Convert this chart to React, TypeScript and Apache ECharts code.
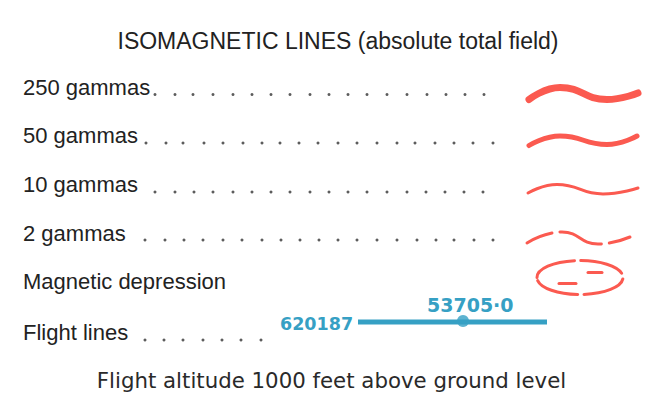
import React, { useEffect, useRef } from "react";
import * as echarts from "echarts";

const TITLE = "ISOMAGNETIC LINES (absolute total field)";
const FOOTNOTE = "Flight altitude 1000 feet above ground level";

const labels = ["250 gammas", "50 gammas", "10 gammas", "2 gammas", "Magnetic depression", "Flight lines"];
const labelBaselines = [95.5, 143.5, 192.5, 241, 289, 340.5];

// dot leaders (x positions) and their row y
const dotRows: { y: number; xs: number[] }[] = [
  { y: 94.5, xs: [155, 175, 193, 213, 233, 252, 271, 290, 310, 329, 348, 367, 387, 407, 427, 446, 465, 484] },
  { y: 143, xs: [146, 166, 183, 204, 223, 243, 262, 280, 299, 318, 338, 357, 377, 397, 415, 435, 454, 473, 493] },
  { y: 192, xs: [155, 175, 194, 213, 233, 252, 271, 290, 310, 329, 348, 367, 387, 407, 426, 445, 464, 483] },
  { y: 240, xs: [145, 165, 184, 203, 223, 242, 262, 281, 300, 319, 338, 357, 377, 397, 417, 436, 454, 474, 493] },
  { y: 340, xs: [145, 164, 183, 203, 222, 241, 261] },
];

// wave swatches: [x, y]
const wave250 = [[529, 99.5], [560, 87.5], [607, 99.5], [638, 93]];
const wave50 = [[529, 145.5], [560, 136], [607, 144.5], [637, 136]];
const wave10 = [[528, 193], [557, 184.5], [603, 194], [638, 188]];
const wave2 = [[527, 243], [562, 232], [598, 244], [630, 237]];
const depression = [[580, 277.5, 43, 17]]; // cx, cy, rx, ry
const depressionDashA = [[588, 272.5], [602, 272.5]];
const depressionDashB = [[559, 283.5], [576, 283.5]];
const flightLine = [[358, 322], [547, 322]];
const flightPoint = [[463, 321]];
const flightLabels = [
  { text: "620187", x: 280, base: 330, size: 17.5 },
  { text: "53705·0", x: 427, base: 312, size: 19 },
];

const RED = "#fb5a50";
const BLUE = "#36a0c4";
const INK = "#222222";

export default function App() {
  const ref = useRef<HTMLDivElement>(null);
  useEffect(() => {
    if (!ref.current) return;
    const chart = echarts.init(ref.current, undefined, { renderer: "svg" });

    const waveSeries = (data: number[][], width: number, type: any = "solid") => ({
      type: "line",
      data,
      smooth: 0.5,
      showSymbol: false,
      silent: true,
      lineStyle: { color: RED, width, cap: "round", type },
    });

    const graphic: any[] = [];
    graphic.push({
      type: "text",
      x: 338,
      y: 49 - 8,
      style: { text: TITLE, font: '23px "Liberation Sans", Arial, sans-serif', fill: INK, align: "center", verticalAlign: "middle" },
    });
    labels.forEach((t, i) => {
      graphic.push({
        type: "text",
        x: 23,
        y: labelBaselines[i] - 7.6,
        style: { text: t, font: '22px "Liberation Sans", Arial, sans-serif', fill: INK, align: "left", verticalAlign: "middle" },
      });
    });
    flightLabels.forEach((l) => {
      graphic.push({
        type: "text",
        x: l.x,
        y: l.base - l.size * 0.35,
        style: { text: l.text, font: `bold ${l.size}px "DejaVu Sans", sans-serif`, fill: BLUE, align: "left", verticalAlign: "middle" },
      });
    });
    graphic.push({
      type: "text",
      x: 331.5,
      y: 387.5 - 7.4,
      style: { text: FOOTNOTE, font: '21.3px "DejaVu Sans", sans-serif', fill: "#2a2a2a", align: "center", verticalAlign: "middle" },
    });

    const series: any[] = [
      ...dotRows.map((r) => ({
        type: "scatter",
        data: r.xs.map((x) => [x, r.y]),
        symbol: "circle",
        symbolSize: 3,
        silent: true,
        itemStyle: { color: "#333" },
      })),
      waveSeries(wave250, 7),
      waveSeries(wave50, 5),
      waveSeries(wave10, 3),
      waveSeries(wave2, 3, [27, 8, 44, 8, 28, 60]),
      {
        type: "custom",
        data: depression,
        silent: true,
        renderItem: (params: any, api: any) => {
          const c = api.coord([api.value(0), api.value(1)]);
          const s = api.size([api.value(2), api.value(3)]);
          return {
            type: "ellipse",
            shape: { cx: c[0], cy: c[1], rx: s[0], ry: s[1] },
            style: { fill: "none", stroke: RED, lineWidth: 3, lineDash: [44, 6], lineCap: "round" },
          };
        },
      },
      {
        type: "line",
        data: depressionDashA,
        showSymbol: false,
        silent: true,
        lineStyle: { color: RED, width: 3, cap: "round" },
      },
      {
        type: "line",
        data: depressionDashB,
        showSymbol: false,
        silent: true,
        lineStyle: { color: RED, width: 3, cap: "round" },
      },
      {
        type: "line",
        data: flightLine,
        showSymbol: false,
        silent: true,
        lineStyle: { color: BLUE, width: 5 },
      },
      {
        type: "scatter",
        data: flightPoint,
        symbol: "circle",
        symbolSize: 12,
        silent: true,
        itemStyle: { color: BLUE },
      },
    ];

    chart.setOption({
      animation: false,
      backgroundColor: "#ffffff",
      grid: { left: 0, right: 0, top: 0, bottom: 0 },
      xAxis: { type: "value", min: 0, max: 652, show: false },
      yAxis: { type: "value", min: 0, max: 408, inverse: true, show: false },
      graphic,
      series,
    });
    return () => chart.dispose();
  }, []);
  return <div ref={ref} style={{ position: "fixed", left: 0, top: 0, width: 652, height: 408 }} />;
}
